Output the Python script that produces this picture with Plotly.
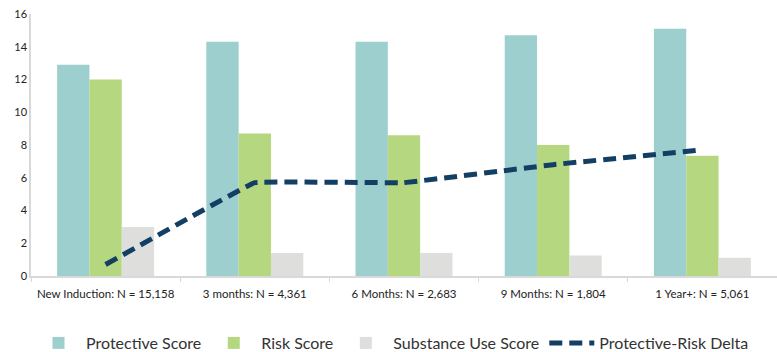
import plotly.graph_objects as go

categories = ["New Induction: N = 15,158", "3 months: N = 4,361", "6 Months: N = 2,683",
              "9 Months: N = 1,804", "1 Year+: N = 5,061"]
protective = [12.9, 14.3, 14.3, 14.7, 15.1]
risk = [12.0, 8.7, 8.6, 8.0, 7.35]
substance = [3.0, 1.4, 1.4, 1.25, 1.12]
delta = [0.7, 5.7, 5.7, 6.8, 7.7]
y_ticks = [0, 2, 4, 6, 8, 10, 12, 14, 16]

FONT = "Lato"

fig = go.Figure()
fig.add_bar(x=categories, y=protective, name="Protective Score", marker_color="#9ecfcf", marker_line_width=0)
fig.add_bar(x=categories, y=risk, name="Risk Score", marker_color="#b5d77f", marker_line_width=0)
fig.add_bar(x=categories, y=substance, name="Substance Use Score", marker_color="#dededc", marker_line_width=0)
fig.add_scatter(x=categories, y=delta, name="Protective-Risk Delta", mode="lines",
                line=dict(color="#123f63", width=5, dash="13px,7px", shape="spline", smoothing=0.12))

fig.update_layout(
    width=777, height=352,
    margin=dict(l=31, r=0, t=14, b=76),
    plot_bgcolor="white", paper_bgcolor="white",
    barmode="group", bargap=0.35, bargroupgap=0,
    font=dict(family=FONT, color="#333333"),
    showlegend=True,
    legend=dict(orientation="h", x=0, xanchor="left", xref="paper",
                y=9 / 352, yanchor="middle", yref="container",
                font=dict(size=16, color="#333333"), itemwidth=45),
    xaxis=dict(showline=True, linecolor="#d9d9d9", linewidth=1.5, ticks="outside",
               tickson="boundaries", ticklen=4, tickcolor="#d9d9d9", ticklabelstandoff=6,
               tickfont=dict(size=11.5, color="#222222"), showgrid=False),
    yaxis=dict(range=[0, 16], tickvals=y_ticks, showline=True, linecolor="#d9d9d9", linewidth=1.5,
               showgrid=False, zeroline=False, ticks="", tickfont=dict(size=11, color="#222222")),
)

fig.write_html("out.html")
